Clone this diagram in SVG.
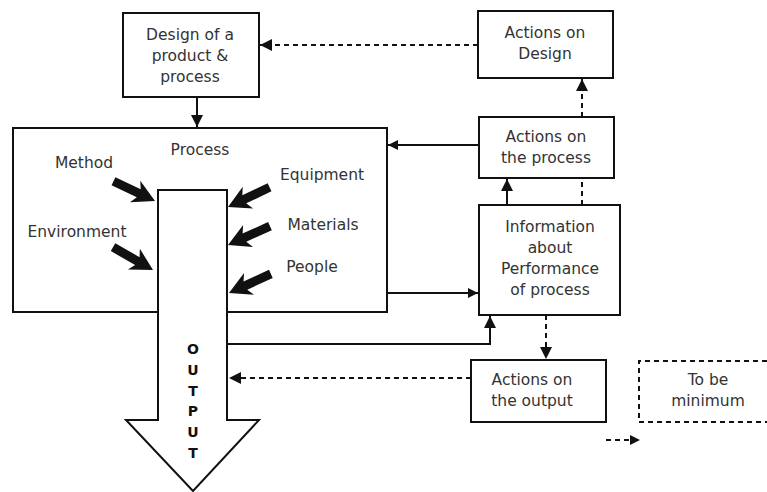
<svg xmlns="http://www.w3.org/2000/svg" width="767" height="492" viewBox="0 0 767 492">
<defs>
<style>
.box{fill:#fff;stroke:#111;stroke-width:2}
.t{font-family:"DejaVu Sans",sans-serif;font-size:15.5px;fill:#333;text-anchor:middle}
.o{font-family:"DejaVu Sans",sans-serif;font-size:14px;font-weight:bold;fill:#111;text-anchor:middle}
.ln{fill:none;stroke:#111;stroke-width:2}
.dl{fill:none;stroke:#111;stroke-width:2;stroke-dasharray:5,4}
</style>
<marker id="ah" viewBox="0 0 10 10" refX="10" refY="5" markerWidth="10" markerHeight="10" markerUnits="userSpaceOnUse" orient="auto">
<path d="M0,0L10,5L0,10z" fill="#111"/>
</marker>
<marker id="ahb" viewBox="0 0 10 10" refX="10" refY="5" markerWidth="12" markerHeight="12" markerUnits="userSpaceOnUse" orient="auto">
<path d="M0,0L10,5L0,10z" fill="#111"/>
</marker>
<polygon id="fat" points="0,0 -22,-12 -18,-4.5 -46,-4.5 -46,4.5 -18,4.5 -22,12" fill="#111"/>
</defs>
<rect width="767" height="492" fill="#fff"/>

<g id="process">
<rect class="box" x="13" y="128" width="374" height="184"/>
<text class="t" x="200" y="155">Process</text>
<text class="t" x="84" y="168">Method</text>
<text class="t" x="77" y="237">Environment</text>
<text class="t" x="322" y="180">Equipment</text>
<text class="t" x="323" y="230">Materials</text>
<text class="t" x="312" y="272">People</text>
</g>

<g id="output">
<path d="M158,190 H227 V420 H259 L193,491 L126,420 H158 Z" fill="#fff" stroke="#111" stroke-width="2"/>
<text class="o" x="193" y="354">O</text>
<text class="o" x="193" y="375">U</text>
<text class="o" x="193" y="396">T</text>
<text class="o" x="193" y="416">P</text>
<text class="o" x="193" y="437">U</text>
<text class="o" x="193" y="458">T</text>
</g>

<g id="inputs">
<use href="#fat" transform="translate(155,201) rotate(25.5)"/>
<use href="#fat" transform="translate(153,270) rotate(29.7)"/>
<use href="#fat" transform="translate(228,207) rotate(154.6)"/>
<use href="#fat" transform="translate(228,245) rotate(155.8)"/>
<use href="#fat" transform="translate(229,293) rotate(155.5)"/>
</g>

<g id="design">
<rect class="box" x="123" y="13" width="136" height="84"/>
<text class="t" x="190" y="40">Design of a</text>
<text class="t" x="190" y="61">product &amp;</text>
<text class="t" x="190" y="82">process</text>
</g>

<g id="actions-design">
<rect class="box" x="478" y="11" width="135" height="67"/>
<text class="t" x="545" y="38">Actions on</text>
<text class="t" x="545" y="59">Design</text>
</g>

<g id="actions-process">
<rect class="box" x="479" y="117" width="135" height="61"/>
<text class="t" x="546" y="142">Actions on</text>
<text class="t" x="546" y="163">the process</text>
</g>

<g id="information">
<rect class="box" x="479" y="205" width="141" height="110"/>
<text class="t" x="550" y="232">Information</text>
<text class="t" x="550" y="253">about</text>
<text class="t" x="550" y="274">Performance</text>
<text class="t" x="550" y="295">of process</text>
</g>

<g id="actions-output">
<rect class="box" x="471" y="360" width="135" height="62"/>
<text class="t" x="532" y="385">Actions on</text>
<text class="t" x="532" y="406">the output</text>
</g>

<g id="legend">
<path class="dl" d="M767,361 H639 V422 H767"/>
<text class="t" x="708" y="385">To be</text>
<text class="t" x="708" y="406">minimum</text>
<path class="dl" d="M606,440 H640" stroke-dasharray="4,3" marker-end="url(#ah)"/>
</g>

<g id="connectors">
<path class="ln" d="M197,97 V127" marker-end="url(#ahb)"/>
<path class="dl" d="M478,45 H260" marker-end="url(#ahb)"/>
<path class="ln" d="M479,145 H388" marker-end="url(#ah)"/>
<path class="dl" d="M582,117 V79" marker-end="url(#ahb)"/>
<path class="dl" d="M582,205 V178"/>
<path class="ln" d="M507,205 V179" marker-end="url(#ahb)"/>
<path class="ln" d="M387,293 H478" marker-end="url(#ah)"/>
<path class="ln" d="M227,344 H490 V316" marker-end="url(#ahb)"/>
<path class="dl" d="M546,315 V359" marker-end="url(#ahb)"/>
<path class="dl" d="M471,378 H229" marker-end="url(#ahb)"/>
</g>
</svg>
